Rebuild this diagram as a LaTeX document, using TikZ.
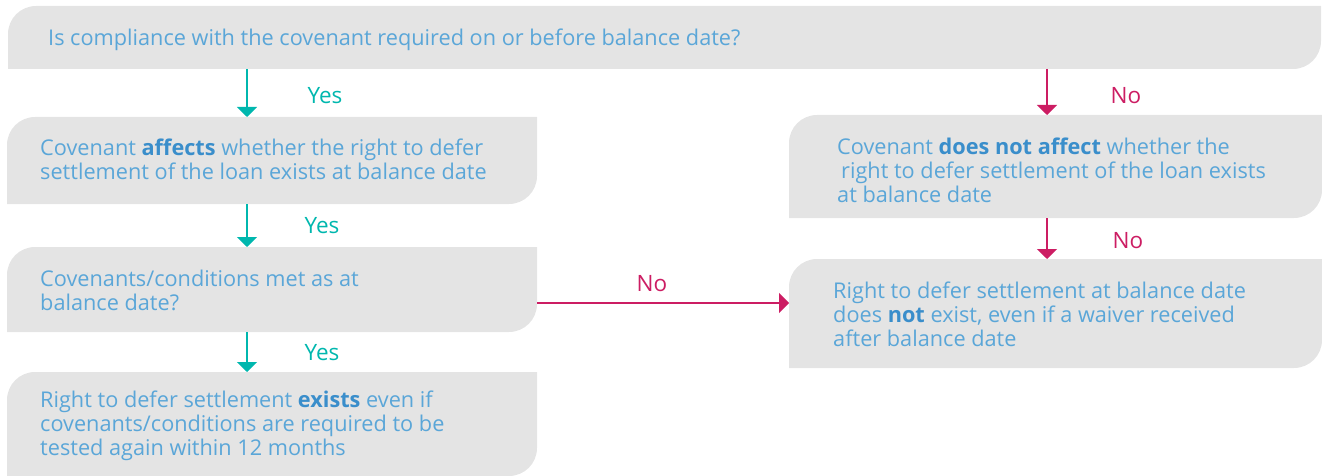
\documentclass[tikz,border=0pt]{standalone}
\usepackage{fontspec}
\setmainfont{Open Sans}
\usetikzlibrary{arrows.meta}
\definecolor{boxgray}{HTML}{E4E4E4}
\definecolor{txtblue}{HTML}{5AA6D8}
\definecolor{boldblue}{HTML}{3A8ECB}
\definecolor{yescol}{HTML}{00B7AE}
\definecolor{nocol}{HTML}{CC1D63}
\newcommand\leafbox[1]{%
  \fill[boxgray] (#1.south west) -- ([yshift=-28pt]#1.north west)
    arc[start angle=180,end angle=90,radius=28pt] -- (#1.north east)
    -- ([yshift=28pt]#1.south east)
    arc[start angle=0,end angle=-90,radius=28pt] -- cycle;}
\newcommand\bb[1]{{\bfseries\color{boldblue}#1}}
\tikzset{
  boxarea/.style={draw=none, inner sep=0pt, outer sep=0pt},
  txt/.style={anchor=base west, align=left, inner sep=0pt, text=txtblue,
    font=\fontsize{21.7}{24}\selectfont},
  yesarrow/.style={draw=yescol, line width=1.6pt, -{Triangle[width=20pt,length=10pt]}},
  noarrow/.style={draw=nocol, line width=1.6pt, -{Triangle[width=20pt,length=10pt]}},
  yeslbl/.style={anchor=base, inner sep=0pt, text=yescol, font=\fontsize{22.5}{24}\selectfont},
  nolbl/.style={anchor=base, inner sep=0pt, text=nocol, font=\fontsize{22.5}{24}\selectfont},
}
\begin{document}
\begin{tikzpicture}[x=1pt,y=1pt]
\useasboundingbox (0,0) rectangle (1322,-476);
% box areas
\node[boxarea, minimum width=1313pt, minimum height=63pt] (b1) at (664.5,-37.5) {};
\node[boxarea, minimum width=530pt, minimum height=87pt] (b2) at (272,-160.5) {};
\node[boxarea, minimum width=530pt, minimum height=85pt] (b3) at (272,-289.5) {};
\node[boxarea, minimum width=530pt, minimum height=104pt] (b4) at (272,-424) {};
\node[boxarea, minimum width=533pt, minimum height=103pt] (b5) at (1055.5,-166.5) {};
\node[boxarea, minimum width=533pt, minimum height=109pt] (b6) at (1055.5,-313.5) {};
\leafbox{b1}\leafbox{b2}\leafbox{b3}\leafbox{b4}\leafbox{b5}\leafbox{b6}
% texts (base = baseline of last line)
\node[txt] (t1) at (48,-46) {Is compliance with the covenant required on or before balance date?};
\node[txt] (t2) at (40,-179) {Covenant \bb{affects} whether the right to defer\\settlement of the loan exists at balance date};
\node[txt] (t3) at (40,-310) {Covenants/conditions met as at\\balance date?};
\node[txt] (t4) at (40,-455) {Right to defer settlement \bb{exists} even if\\covenants/conditions are required to be\\tested again within 12 months};
\node[txt] (t5) at (837,-202) {Covenant \bb{does not affect} whether the\\\hspace*{4pt}right to defer settlement of the loan exists\\at balance date};
\node[txt] (t6) at (833,-346) {Right to defer settlement at balance date\\does \bb{not} exist, even if a waiver received\\after balance date};
% connectors
\coordinate (lx) at (247,0);
\coordinate (rx) at (1047,0);
\coordinate (hy) at (0,-303);
\draw[yesarrow] (b1.south -| lx) -- (b2.north -| lx);
\draw[yesarrow] (b2.south -| lx) -- (b3.north -| lx);
\draw[yesarrow] (b3.south -| lx) -- (b4.north -| lx);
\draw[noarrow] (b1.south -| rx) -- (b5.north -| rx);
\draw[noarrow] (b5.south -| rx) -- (b6.north -| rx);
\draw[noarrow] (b3.east |- hy) -- (b6.west |- hy);
% labels
\node[yeslbl] (y1) at (325,-104) {Yes};
\node[yeslbl] (y2) at (322,-233) {Yes};
\node[yeslbl] (y3) at (322,-360) {Yes};
\node[nolbl] (n1) at (1126,-104) {No};
\node[nolbl] (n2) at (1128,-248) {No};
\node[nolbl] (n3) at (652,-291) {No};
\end{tikzpicture}
\end{document}
